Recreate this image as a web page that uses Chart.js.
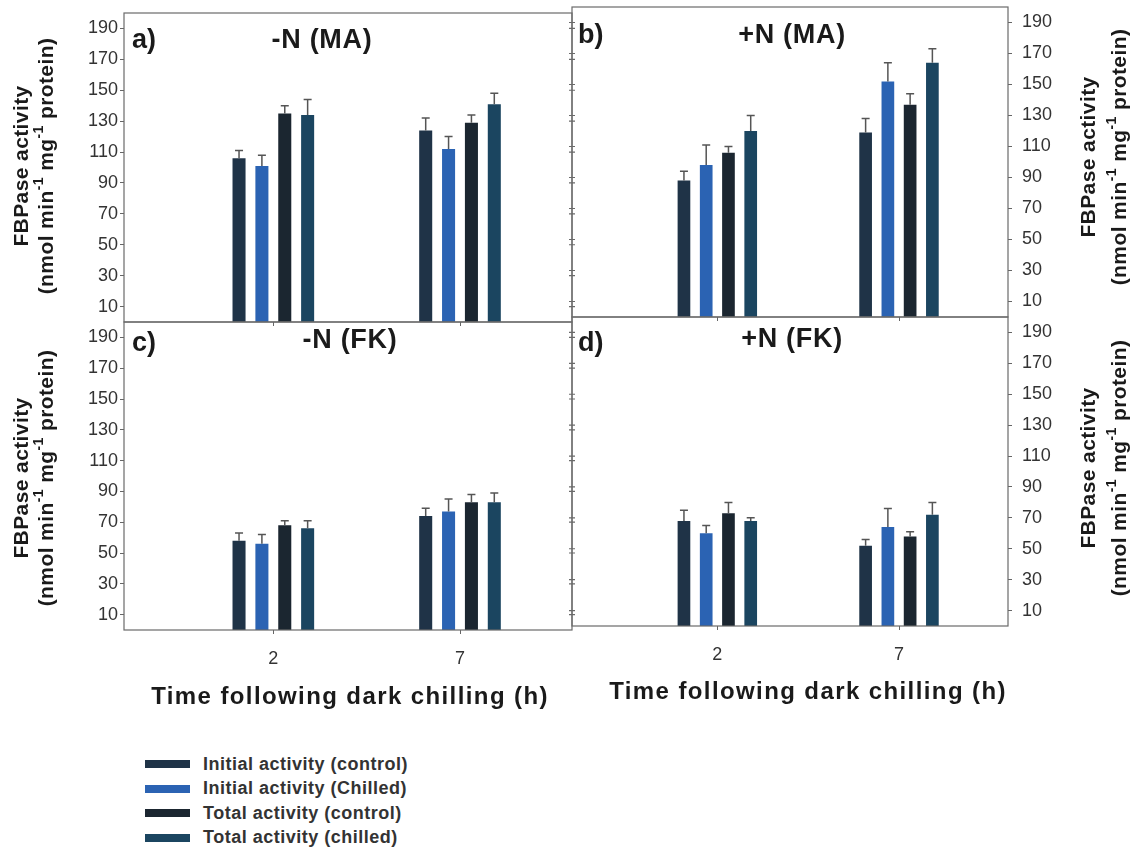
<!DOCTYPE html>
<html>
<head>
<meta charset="utf-8">
<script src="https://cdn.jsdelivr.net/npm/chart.js@4.4.0/dist/chart.umd.min.js"></script>
<style>
  html, body { margin: 0; padding: 0; background: #fff; }
  body { width: 1139px; height: 851px; position: relative; overflow: hidden; font-family: 'Liberation Sans', Arial, sans-serif; }
  canvas { position: absolute; }
  #legenda { position: absolute; left: 145px; top: 752px; }
  .item { display: flex; align-items: center; height: 24.5px; font-weight: bold; font-size: 18px; letter-spacing: 0.5px; color: #333; }
  .cor { width: 45px; height: 8px; margin-right: 13px; }
</style>
</head>
<body>
<canvas id="painel-a"></canvas>
<canvas id="painel-b"></canvas>
<canvas id="painel-c"></canvas>
<canvas id="painel-d"></canvas>
<div id="legenda"></div>

<script>
/* dados: [2 h, 7 h] para cada serie */
const SERIES = ['Initial activity (control)', 'Initial activity (Chilled)', 'Total activity (control)', 'Total activity (chilled)'];
const CORES = ['#1f3347', '#2b63b3', '#1b2630', '#1b4560'];
const HORAS = [2, 7];
const Y_TICKS = [10, 30, 50, 70, 90, 110, 130, 150, 170, 190];

const A_VALORES = [[106, 124], [101, 112], [135, 129], [134, 141]];
const A_ERROS   = [[5, 8], [7, 8], [5, 5], [10, 7]];
const B_VALORES = [[88, 119], [98, 152], [106, 137], [120, 164]];
const B_ERROS   = [[6, 9], [13, 12], [4, 7], [10, 9]];
const C_VALORES = [[58, 74], [56, 77], [68, 83], [66, 83]];
const C_ERROS   = [[5, 5], [6, 8], [3, 5], [5, 6]];
const D_VALORES = [[68, 52], [60, 64], [73, 58], [68, 72]];
const D_ERROS   = [[7, 4], [5, 12], [7, 3], [2, 8]];

const FONTE = "'Liberation Sans', Arial, sans-serif";
const UNIDADE = [['(nmol min', 0], ['-1', 1], [' mg', 0], ['-1', 1], [' protein)', 0]];

/* --- plugins --- */
const barrasErro = {
  id: 'barrasErro',
  afterDatasetsDraw(chart) {
    const { ctx } = chart;
    const y = chart.scales.y;
    ctx.save();
    ctx.strokeStyle = '#555';
    ctx.lineWidth = 1.5;
    chart.data.datasets.forEach((ds, i) => {
      chart.getDatasetMeta(i).data.forEach((bar, j) => {
        const topo = y.getPixelForValue(ds.data[j].y + ds.erros[j]);
        ctx.beginPath();
        ctx.moveTo(bar.x, bar.y);
        ctx.lineTo(bar.x, topo);
        ctx.moveTo(bar.x - 4, topo);
        ctx.lineTo(bar.x + 4, topo);
        ctx.stroke();
      });
    });
    ctx.restore();
  }
};

const moldura = {
  id: 'moldura',
  afterDraw(chart) {
    const { ctx, chartArea: a } = chart;
    const y = chart.scales.y;
    ctx.save();
    ctx.strokeStyle = '#6a6a6a';
    ctx.lineWidth = 1.2;
    ctx.strokeRect(a.left, a.top, a.right - a.left, a.bottom - a.top);
    // marcas no lado oposto ao eixo
    const xLado = y.position === 'left' ? a.right : a.left;
    ctx.beginPath();
    Y_TICKS.forEach(v => {
      const py = y.getPixelForValue(v);
      ctx.moveTo(xLado - 3, py);
      ctx.lineTo(xLado + 3, py);
    });
    ctx.stroke();
    ctx.restore();
  }
};

function textoUnidade(ctx) {
  const normal = 'bold 21px ' + FONTE;
  const sobre = 'bold 14px ' + FONTE;
  let total = 0;
  UNIDADE.forEach(([t, s]) => { ctx.font = s ? sobre : normal; total += ctx.measureText(t).width; });
  let x = -total / 2;
  ctx.textAlign = 'left';
  UNIDADE.forEach(([t, s]) => {
    ctx.font = s ? sobre : normal;
    ctx.fillText(t, x, s ? -8 : 0);
    x += ctx.measureText(t).width;
  });
}

const textos = {
  id: 'textos',
  afterDraw(chart, args, opts) {
    const { ctx } = chart;
    const dx = opts.origem[0], dy = opts.origem[1];
    ctx.save();
    ctx.fillStyle = '#1a1a1a';
    ctx.textBaseline = 'middle';
    opts.itens.forEach(it => {
      if (it.tipo === 'titY') {
        ctx.save();
        ctx.letterSpacing = '0.4px';
        ctx.translate(it.x1 - dx, it.y - dy);
        ctx.rotate(-Math.PI / 2);
        ctx.font = 'bold 21px ' + FONTE;
        ctx.textAlign = 'center';
        ctx.fillText('FBPase activity', 0, 0);
        ctx.restore();
        ctx.save();
        ctx.letterSpacing = '0.4px';
        ctx.translate(it.x2 - dx, it.y - dy);
        ctx.rotate(-Math.PI / 2);
        textoUnidade(ctx);
        ctx.restore();
      } else {
        ctx.font = it.fonte;
        ctx.letterSpacing = it.esp || '0px';
        ctx.textAlign = it.alinh || 'center';
        ctx.fillText(it.t, it.x - dx, it.y - dy);
      }
    });
    ctx.restore();
  }
};

/* --- montagem de cada painel --- */
function criarPainel(id, cfg, valores, erros) {
  const canvas = document.getElementById(id);
  canvas.width = cfg.w;
  canvas.height = cfg.h;
  canvas.style.left = cfg.left + 'px';
  canvas.style.top = cfg.top + 'px';
  canvas.style.width = cfg.w + 'px';
  canvas.style.height = cfg.h + 'px';

  const [al, at, ar, ab] = cfg.area;
  const esquerda = cfg.eixoY === 'left';
  const larguraY = esquerda ? al - cfg.left : cfg.left + cfg.w - ar;
  const alturaX = cfg.top + cfg.h - ab;

  return new Chart(canvas.getContext('2d'), {
    type: 'bar',
    data: {
      datasets: SERIES.map((nome, i) => ({
        label: nome,
        data: HORAS.map((h, j) => ({ x: h, y: valores[i][j] })),
        erros: erros[i],
        backgroundColor: CORES[i],
        borderWidth: 0,
        categoryPercentage: 0.49,
        barPercentage: 0.57,
      })),
    },
    options: {
      responsive: false,
      animation: false,
      devicePixelRatio: 1,
      layout: {
        padding: {
          top: at - cfg.top,
          bottom: 0,
          left: esquerda ? 0 : al - cfg.left,
          right: esquerda ? cfg.left + cfg.w - ar : 0,
        },
      },
      plugins: {
        legend: { display: false },
        tooltip: { enabled: false },
        textos: { origem: [cfg.left, cfg.top], itens: cfg.textos },
      },
      scales: {
        x: {
          type: 'linear', min: -2, max: 10, offset: false,
          afterBuildTicks: (s) => { s.ticks = HORAS.map(v => ({ value: v })); },
          afterFit: (s) => { s.height = alturaX; },
          grid: { drawOnChartArea: false, drawTicks: true, tickLength: 4, color: '#666', offset: false },
          border: { display: false },
          ticks: { display: cfg.rotulosX, padding: 14, color: '#333', font: { family: FONTE, size: 18 } },
        },
        y: {
          type: 'linear', position: cfg.eixoY, min: 0, max: 200,
          afterBuildTicks: (s) => { s.ticks = Y_TICKS.map(v => ({ value: v })); },
          afterFit: (s) => { s.width = larguraY; },
          grid: { drawOnChartArea: false, drawTicks: true, tickLength: 4, color: '#666' },
          border: { display: false },
          ticks: { padding: esquerda ? 2 : 10, color: '#333', font: { family: FONTE, size: 18 } },
        },
      },
    },
    plugins: [barrasErro, moldura, textos],
  });
}

const ROTULO = 'bold 27px ' + FONTE;
const TITULO_X = 'bold 24px ' + FONTE;

criarPainel('painel-a', {
  left: 0, top: 0, w: 585, h: 345, area: [124, 13, 572, 322], eixoY: 'left', rotulosX: false,
  textos: [
    { t: 'a)', x: 132, y: 41, fonte: ROTULO, alinh: 'left' },
    { t: '-N (MA)', x: 322, y: 41, fonte: ROTULO, esp: '0.7px' },
    { tipo: 'titY', x1: 22, x2: 47, y: 166 },
  ],
}, A_VALORES, A_ERROS);

criarPainel('painel-b', {
  left: 555, top: -20, w: 584, h: 360, area: [572, 7, 1008, 317], eixoY: 'right', rotulosX: false,
  textos: [
    { t: 'b)', x: 578, y: 36, fonte: ROTULO, alinh: 'left' },
    { t: '+N (MA)', x: 792, y: 36, fonte: ROTULO, esp: '0.7px' },
    { tipo: 'titY', x1: 1089, x2: 1120, y: 157 },
  ],
}, B_VALORES, B_ERROS);

criarPainel('painel-c', {
  left: 0, top: 300, w: 585, h: 420, area: [124, 322, 572, 630], eixoY: 'left', rotulosX: true,
  textos: [
    { t: 'c)', x: 132, y: 344, fonte: ROTULO, alinh: 'left' },
    { t: '-N (FK)', x: 350, y: 341, fonte: ROTULO, esp: '0.7px' },
    { tipo: 'titY', x1: 22, x2: 47, y: 478 },
    { t: 'Time following dark chilling (h)', x: 350, y: 697, fonte: TITULO_X, esp: '1.4px' },
  ],
}, C_VALORES, C_ERROS);

criarPainel('painel-d', {
  left: 555, top: 288, w: 584, h: 432, area: [572, 317, 1008, 626], eixoY: 'right', rotulosX: true,
  textos: [
    { t: 'd)', x: 578, y: 344, fonte: ROTULO, alinh: 'left' },
    { t: '+N (FK)', x: 792, y: 340, fonte: ROTULO, esp: '0.7px' },
    { tipo: 'titY', x1: 1089, x2: 1120, y: 468 },
    { t: 'Time following dark chilling (h)', x: 808, y: 692, fonte: TITULO_X, esp: '1.4px' },
  ],
}, D_VALORES, D_ERROS);

/* legenda em HTML */
const legenda = document.getElementById('legenda');
SERIES.forEach((nome, i) => {
  const item = document.createElement('div');
  item.className = 'item';
  item.innerHTML = '<span class="cor" style="background:' + CORES[i] + '"></span><span>' + nome + '</span>';
  legenda.appendChild(item);
});
</script>
</body>
</html>
